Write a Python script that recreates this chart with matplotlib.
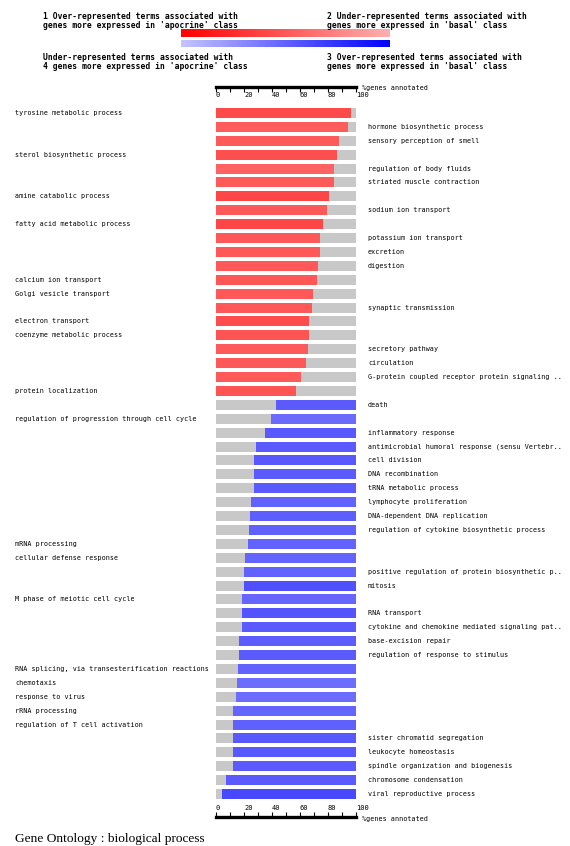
import matplotlib
matplotlib.use("Agg")
import matplotlib.pyplot as plt
import matplotlib.transforms as mtransforms
from matplotlib.colors import LinearSegmentedColormap
import numpy as np

# GO terms, top to bottom
terms = [
    "tyrosine metabolic process",
    "hormone biosynthetic process",
    "sensory perception of smell",
    "sterol biosynthetic process",
    "regulation of body fluids",
    "striated muscle contraction",
    "amine catabolic process",
    "sodium ion transport",
    "fatty acid metabolic process",
    "potassium ion transport",
    "excretion",
    "digestion",
    "calcium ion transport",
    "Golgi vesicle transport",
    "synaptic transmission",
    "electron transport",
    "coenzyme metabolic process",
    "secretory pathway",
    "circulation",
    "G-protein coupled receptor protein signaling ..",
    "protein localization",
    "death",
    "regulation of progression through cell cycle",
    "inflammatory response",
    "antimicrobial humoral response (sensu Vertebr..",
    "cell division",
    "DNA recombination",
    "tRNA metabolic process",
    "lymphocyte proliferation",
    "DNA-dependent DNA replication",
    "regulation of cytokine biosynthetic process",
    "mRNA processing",
    "cellular defense response",
    "positive regulation of protein biosynthetic p..",
    "mitosis",
    "M phase of meiotic cell cycle",
    "RNA transport",
    "cytokine and chemokine mediated signaling pat..",
    "base-excision repair",
    "regulation of response to stimulus",
    "RNA splicing, via transesterification reactions",
    "chemotaxis",
    "response to virus",
    "rRNA processing",
    "regulation of T cell activation",
    "sister chromatid segregation",
    "leukocyte homeostasis",
    "spindle organization and biogenesis",
    "chromosome condensation",
    "viral reproductive process",
]

# which side the label is written on
label_side = list("LRRLRRLRLRRRLLRLLRRRL" "RLRRRRRRRRLLRRLRRRRLLLLLRRRRR")

# class: "apocrine" (red, from the left) or "basal" (blue, from the right)
term_class = ["apocrine"] * 21 + ["basal"] * 29

# split point of each bar (%genes annotated)
split = [
    96.1, 94.0, 88.0, 86.6, 84.5, 84.5, 80.6, 79.5, 76.6, 74.2, 74.2,
    72.8, 72.1, 69.2, 68.7, 66.6, 66.1, 65.6, 64.2, 60.8, 56.8,
    42.9, 39.4, 34.8, 28.9, 27.4, 27.4, 27.4, 24.8, 24.3, 23.4, 22.9,
    21.0, 20.3, 19.8, 18.8, 18.8, 18.4, 16.5, 16.5, 16.0, 15.0, 14.3,
    12.4, 12.4, 12.4, 12.4, 12.4, 7.4, 4.3,
]

# strength of the over/under representation (darker = stronger)
score = [
    0.86, 0.45, 0.50, 0.77, 0.32, 0.50, 0.95, 0.55, 0.95, 0.55, 0.55,
    0.55, 0.59, 0.55, 0.55, 0.82, 0.64, 0.50, 0.55, 0.50, 0.64,
    0.50, 0.14, 0.55, 0.50, 0.55, 0.50, 0.50, 0.32, 0.41, 0.36, 0.32,
    0.27, 0.32, 0.73, 0.23, 0.64, 0.50, 0.45, 0.50, 0.32, 0.09, 0.09,
    0.27, 0.36, 0.55, 0.55, 0.50, 0.50, 0.91,
]

legend_left = ["1 Over-represented terms associated with",
               "genes more expressed in 'apocrine' class"]
legend_right = ["2 Under-represented terms associated with",
                "genes more expressed in 'basal' class"]
legend_left2 = ["Under-represented terms associated with",
                "4 genes more expressed in 'apocrine' class"]
legend_right2 = ["3 Over-represented terms associated with",
                 "genes more expressed in 'basal' class"]

W, H = 570, 846
MONO = "DejaVu Sans Mono"
GREY = "#c8c8c8"

fig = plt.figure(figsize=(W / 100, H / 100), dpi=100)


def box(x0, y0, x1, y1):
    # pixel box (top-left origin) -> figure fraction rect
    return [x0 / W, 1 - y1 / H, (x1 - x0) / W, (y1 - y0) / H]


def shade(cls, s):
    c = (68 + (1 - s) * 44) / 255
    return (1, c, c) if cls == "apocrine" else (c, c, 1)


# legend text
for lines, x, y in [(legend_left, 43, 16.5), (legend_right, 327, 16.5),
                    (legend_left2, 43, 58), (legend_right2, 327, 58)]:
    for i, line in enumerate(lines):
        fig.text(x / W, 1 - (y + i * 8.7) / H, line, family=MONO,
                 weight="bold", fontsize=5.8, va="center", ha="left")

# colour gradients
grad = np.linspace(0, 1, 256)[None, :]
red_cmap = LinearSegmentedColormap.from_list("r", ["#ff0000", "#ffb0b0"])
blue_cmap = LinearSegmentedColormap.from_list("b", ["#c4c4ff", "#0000ff"])
for cmap, (y0, y1) in [(red_cmap, (29, 37)), (blue_cmap, (40, 47))]:
    gax = fig.add_axes(box(181, y0, 390, y1))
    gax.imshow(grad, aspect="auto", cmap=cmap)
    gax.set_axis_off()

# main bars
n = len(terms)
row0, row_step = 113, (794 - 113) / (n - 1)
ax = fig.add_axes(box(216, row0 - row_step / 2, 356, 794 + row_step / 2))
y = np.arange(n)
ax.barh(y, 100, height=0.72, color=GREY, linewidth=0)
for i in range(n):
    if term_class[i] == "apocrine":
        ax.barh(i, split[i], height=0.72, color=shade("apocrine", score[i]),
                linewidth=0)
    else:
        ax.barh(i, 100 - split[i], left=split[i], height=0.72,
                color=shade("basal", score[i]), linewidth=0)
ax.set_xlim(0, 100)
ax.set_ylim(n - 0.5, -0.5)
ax.set_axis_off()

trans = mtransforms.blended_transform_factory(fig.transFigure, ax.transData)
for i, (t, side) in enumerate(zip(terms, label_side)):
    x = 15 / W if side == "L" else 368 / W
    ax.text(x, i, t, transform=trans, family=MONO, fontsize=4.9,
            va="center", ha="left", clip_on=False)


def scale_axis(y_line, top):
    if top:
        sax = fig.add_axes(box(216, y_line - 0.1, 356, y_line))
        sp = "bottom"
    else:
        sax = fig.add_axes(box(216, y_line, 356, y_line + 0.1))
        sp = "top"
    sax.set_xlim(0, 100)
    sax.set_yticks([])
    sax.patch.set_visible(False)
    for name, s in sax.spines.items():
        s.set_visible(name == sp)
    sax.spines[sp].set_linewidth(2.4)
    sax.set_xticks(np.arange(0, 101, 20))
    sax.set_xticks(np.arange(10, 100, 20), minor=True)
    sax.xaxis.set_ticks_position(sp)
    sax.xaxis.set_label_position(sp)
    sax.tick_params(axis="x", which="both", direction="out", length=3.5,
                    width=0.8, pad=0.5, labelsize=5.0)
    for lab in sax.get_xticklabels():
        lab.set_family(MONO)
        lab.set_ha("left")
    fig.text(362 / W, 1 - (y_line + 1.5) / H, "%genes annotated",
             family=MONO, fontsize=4.9, va="center", ha="left")


scale_axis(86.7, top=True)
scale_axis(817, top=False)

fig.text(15 / W, 1 - 839 / H, "Gene Ontology : biological process",
         family="Liberation Serif", fontsize=9.6, va="center", ha="left")

fig.savefig("out.png", dpi=100)
